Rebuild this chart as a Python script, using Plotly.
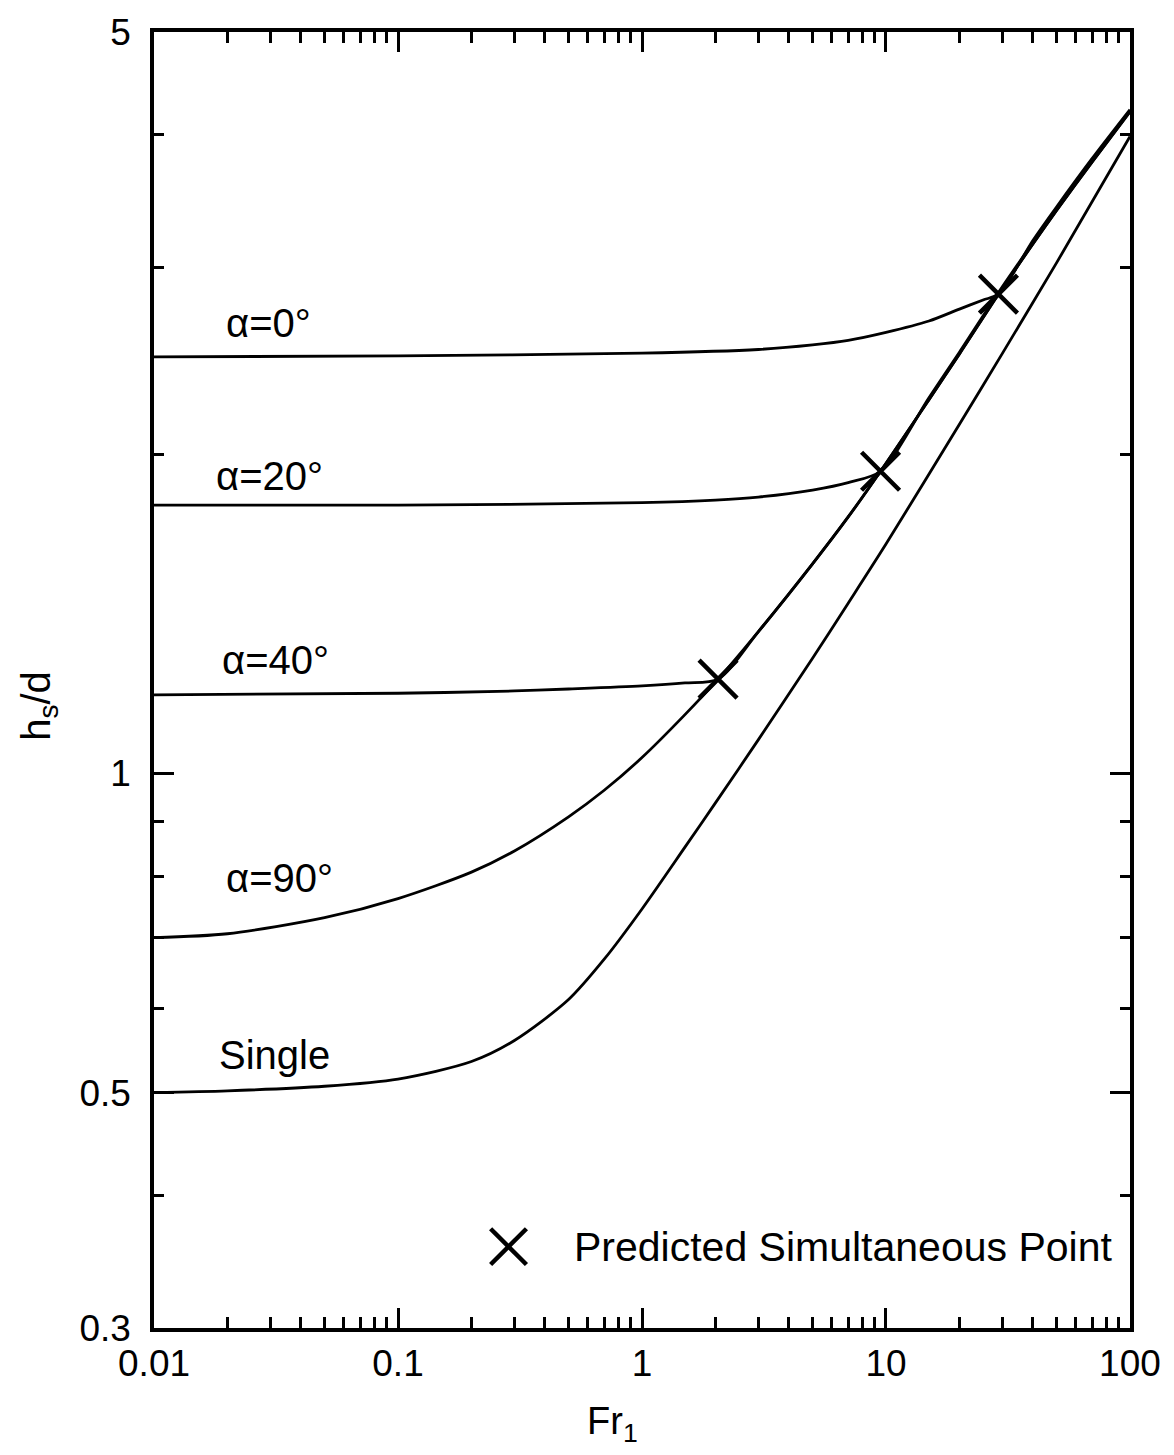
import plotly.graph_objects as go

# Froude number grid points and dimensionless heights for each curve
fr_single = [0.01, 0.02, 0.05, 0.1, 0.2, 0.3, 0.5, 0.7, 1.0, 1.5, 2.0, 3.0, 5.0, 7.0, 10, 20, 30, 50, 100]
h_single = [0.500, 0.502, 0.507, 0.515, 0.535, 0.56, 0.612, 0.668, 0.745, 0.852, 0.938, 1.076, 1.284, 1.447, 1.645, 2.134, 2.489, 3.029, 3.985]

fr_a90 = [0.01, 0.02, 0.05, 0.1, 0.2, 0.3, 0.5, 0.7, 1.0, 1.5, 2.05, 3, 5, 7, 9.5, 15, 20, 28.9, 40, 50, 70, 100]
h_a90 = [0.700, 0.706, 0.731, 0.762, 0.807, 0.845, 0.910, 0.964, 1.035, 1.136, 1.227, 1.3605, 1.576, 1.745, 1.927, 2.251, 2.486, 2.83, 3.156, 3.394, 3.772, 4.206]

fr_a40 = [0.01, 0.1, 0.3, 0.5, 1.0, 1.5, 2.05, 3, 5, 7, 9.5, 15, 20, 28.9, 40, 50, 70, 100]
h_a40 = [1.186, 1.190, 1.196, 1.201, 1.209, 1.217, 1.227, 1.3605, 1.576, 1.745, 1.927, 2.251, 2.486, 2.83, 3.156, 3.394, 3.772, 4.206]

fr_a20 = [0.01, 0.1, 1.0, 2.0, 3.0, 5.0, 7.0, 9.5, 15, 20, 28.9, 40, 50, 70, 100]
h_a20 = [1.79, 1.79, 1.80, 1.81, 1.822, 1.85, 1.88, 1.927, 2.26, 2.495, 2.84, 3.165, 3.403, 3.782, 4.215]

fr_a0 = [0.01, 0.1, 1, 3, 5, 7, 10, 15, 20, 25, 28.9, 40, 50, 70, 100]
h_a0 = [2.47, 2.475, 2.49, 2.51, 2.535, 2.56, 2.605, 2.67, 2.74, 2.795, 2.83, 3.18, 3.42, 3.80, 4.225]

# Predicted simultaneous points
fr_sim = [2.05, 9.5, 28.9]
h_sim = [1.227, 1.927, 2.83]

# Axis ticks
x_major = [0.01, 0.1, 1, 10, 100]
x_major_text = ["0.01", "0.1", "1", "10", "100"]
x_minor = [m * d for d in (0.01, 0.1, 1, 10) for m in range(2, 10)]
y_major = [0.3, 0.5, 1, 5]
y_major_text = ["0.3", "0.5", "1", "5"]
y_minor = [0.4, 0.6, 0.7, 0.8, 0.9, 2, 3, 4]

curve_labels = [
    ("α=0°", 0.0714, 0.7757),
    ("α=20°", 0.0612, 0.6577),
    ("α=40°", 0.0673, 0.5153),
    ("α=90°", 0.0714, 0.3469),
    ("Single", 0.0643, 0.2106),
]

FONT = "Liberation Sans, Arial, Helvetica, sans-serif"

fig = go.Figure()
line_style = dict(color="black", width=2.8, shape="spline", smoothing=0.8)
for fr, h in [(fr_single, h_single), (fr_a90, h_a90), (fr_a40, h_a40),
              (fr_a20, h_a20), (fr_a0, h_a0)]:
    fig.add_trace(go.Scatter(x=fr, y=h, mode="lines", line=line_style,
                             showlegend=False, hoverinfo="skip"))

fig.add_trace(go.Scatter(
    x=fr_sim, y=h_sim, mode="markers", showlegend=False,
    marker=dict(symbol="x-thin", size=38, color="black",
                line=dict(color="black", width=4.5)),
))

for text, xp, yp in curve_labels:
    fig.add_annotation(text=text, x=xp, y=yp, xref="paper", yref="paper",
                       xanchor="left", yanchor="middle", showarrow=False,
                       font=dict(family=FONT, size=40, color="black"))

# Legend entry drawn in paper space
fig.add_shape(type="line", xref="paper", yref="paper",
              x0=0.3449, y0=0.0766, x1=0.3816, y1=0.049,
              line=dict(color="black", width=4.5))
fig.add_shape(type="line", xref="paper", yref="paper",
              x0=0.3449, y0=0.049, x1=0.3816, y1=0.0766,
              line=dict(color="black", width=4.5))
fig.add_annotation(text="Predicted Simultaneous Point", x=0.4286, y=0.0628,
                   xref="paper", yref="paper", xanchor="left", yanchor="middle",
                   showarrow=False, font=dict(family=FONT, size=41, color="black"))

# Axis titles
fig.add_annotation(text="Fr<sub>1</sub>", x=0.47, y=-0.074, xref="paper", yref="paper",
                   xanchor="center", yanchor="middle", showarrow=False,
                   font=dict(family=FONT, size=38, color="black"))
fig.add_annotation(text="h<sub>s</sub>/d", x=-0.118, y=0.48, xref="paper", yref="paper",
                   xanchor="center", yanchor="middle", textangle=-90, showarrow=False,
                   font=dict(family=FONT, size=40, color="black"))

axis_common = dict(
    type="log", showgrid=False, zeroline=False,
    showline=True, linecolor="black", linewidth=3.5, mirror="ticks",
    ticks="inside", tickcolor="black", tickwidth=3,
    tickfont=dict(family=FONT, size=37, color="black"),
    tickmode="array",
)
fig.update_xaxes(**axis_common, range=[-2.0001, 2.0001], tickvals=x_major,
                 ticktext=x_major_text, ticklen=20,
                 minor=dict(tickmode="array", tickvals=x_minor, ticks="inside",
                            ticklen=11, tickwidth=3, tickcolor="black"))
fig.update_yaxes(**axis_common, range=[-0.5229, 0.6990], tickvals=y_major,
                 ticktext=y_major_text, ticklen=20, ticklabelstandoff=12,
                 minor=dict(tickmode="array", tickvals=y_minor, ticks="inside",
                            ticklen=10, tickwidth=3, tickcolor="black"))

fig.update_layout(
    width=1174, height=1455,
    margin=dict(l=154, r=44, t=25, b=127),
    paper_bgcolor="white", plot_bgcolor="white",
    font=dict(family=FONT, color="black"),
)

fig.write_html("out.html")
